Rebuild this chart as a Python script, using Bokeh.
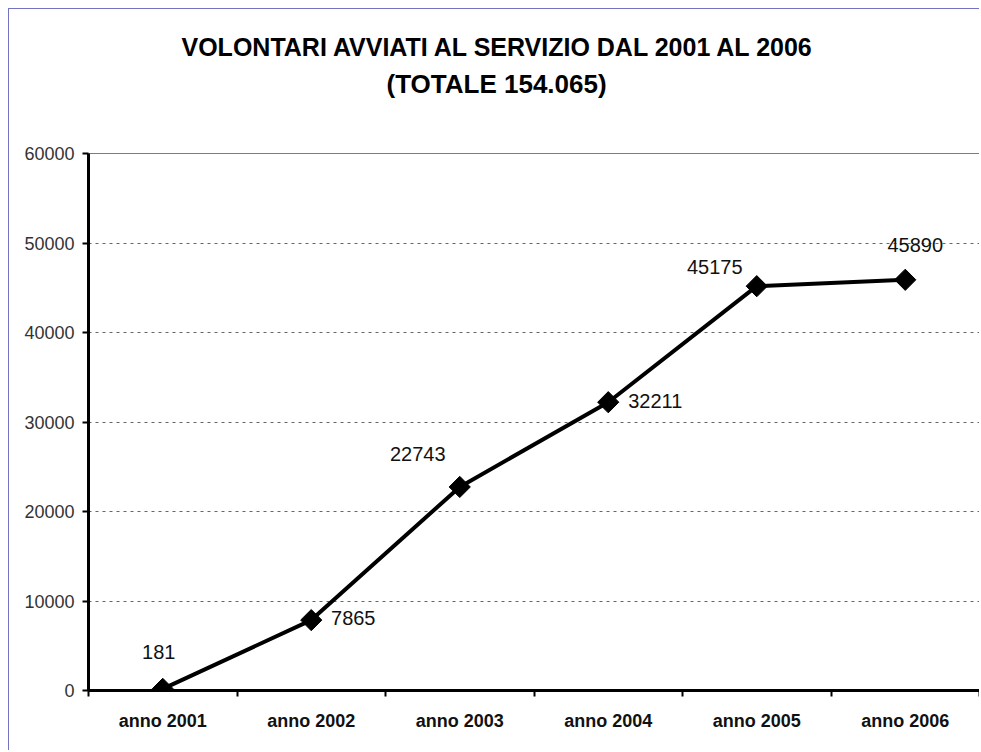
import math
from bokeh.plotting import figure
from bokeh.models import FixedTicker, Range1d, ColumnDataSource, Title
from bokeh.core.properties import value
from bokeh.embed import file_html
from bokeh.resources import INLINE

# ---- data ----
categories = ["anno 2001", "anno 2002", "anno 2003", "anno 2004", "anno 2005", "anno 2006"]
volunteers = [181, 7865, 22743, 32211, 45175, 45890]
y_ticks = [0, 10000, 20000, 30000, 40000, 50000, 60000]
title_line1 = "VOLONTARI AVVIATI AL SERVIZIO DAL 2001 AL 2006"
title_line2 = "(TOTALE 154.065)"

FONT = "Liberation Sans"
BLUE = "#7373c4"

xs = [i + 0.5 for i in range(len(categories))]
bounds = list(range(len(categories) + 1))

p = figure(width=971, height=742, output_backend="svg", toolbar_location=None,
           x_range=Range1d(0, len(categories)), y_range=Range1d(0, y_ticks[-1]),
           min_border_left=79, min_border_right=1, min_border_top=144, min_border_bottom=61,
           title=None)
p.background_fill_color = "white"
p.border_fill_color = "white"
p.outline_line_color = BLUE
p.outline_line_width = 1
p.styles = {"margin-left": "8px", "margin-top": "8px",
            "border-left": "1px solid " + BLUE, "border-top": "1px solid " + BLUE}

# titles: a blank spacer nearest the frame, then the two title lines
spacer = Title(text=" ", text_font=FONT, text_font_size="10px", standoff=40)
t2 = Title(text=title_line2, align="left", offset=298, text_font=FONT, text_font_size="26px",
           text_font_style="bold", text_color="black", standoff=4)
t1 = Title(text=title_line1, align="left", offset=93, text_font=FONT, text_font_size="25px",
           text_font_style="bold", text_color="black", standoff=8)
p.add_layout(spacer, "above")
p.add_layout(t2, "above")
p.add_layout(t1, "above")

# x axis
xa = p.xaxis[0]
xa.ticker = FixedTicker(ticks=xs, minor_ticks=bounds)
xa.major_label_overrides = {x: c for x, c in zip(xs, categories)}
xa.major_tick_line_color = None
xa.major_tick_out = 5
xa.major_tick_in = 0
xa.minor_tick_out = 6
xa.minor_tick_in = 0
xa.minor_tick_line_width = 2
xa.minor_tick_line_color = "black"
xa.axis_line_width = 3
xa.axis_line_color = "black"
xa.major_label_standoff = 14
xa.major_label_text_font = FONT
xa.major_label_text_font_size = "18px"
xa.major_label_text_font_style = "bold"
xa.major_label_text_color = "#111111"

# y axis
ya = p.yaxis[0]
ya.ticker = FixedTicker(ticks=y_ticks)
ya.major_label_overrides = {v: str(v) for v in y_ticks}
ya.major_tick_out = 6
ya.major_tick_in = 0
ya.major_tick_line_width = 2
ya.major_tick_line_color = "black"
ya.minor_tick_line_color = None
ya.axis_line_width = 3
ya.axis_line_color = "black"
ya.major_label_standoff = 8
ya.major_label_text_font = FONT
ya.major_label_text_font_size = "18px"
ya.major_label_text_color = "#333333"

p.xgrid.grid_line_color = None
p.ygrid.ticker = FixedTicker(ticks=y_ticks[1:-1])
p.ygrid.grid_line_color = "#666666"
p.ygrid.grid_line_dash = "3 4"
p.ygrid.grid_line_width = 1

src = ColumnDataSource(dict(
    x=xs, y=volunteers, label=[str(v) for v in volunteers],
    dx=[-4, 42, -42, 47, -42, 10],
    dy=[-37, -2, -33, -1, -19, -35],
))

p.line("x", "y", source=src, line_color="black", line_width=4)
p.scatter("x", "y", source=src, marker="square", angle=math.pi / 4, size=15,
          fill_color="black", line_color="black")
p.text("x", "y", text="label", source=src, x_offset="dx", y_offset="dy",
       text_align="center", text_baseline="middle", text_font=value(FONT),
       text_font_size="20px", text_color="#111111")

open("out.html", "w").write(file_html(p, INLINE))
